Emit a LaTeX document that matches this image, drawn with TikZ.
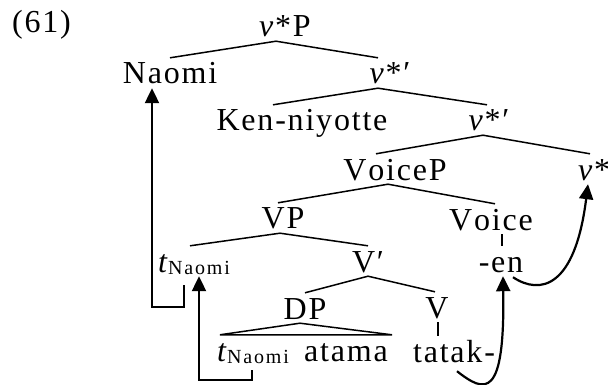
\documentclass[tikz,border=0pt]{standalone}
\usepackage{fontspec}
\setmainfont{Liberation Serif}
\usetikzlibrary{arrows.meta}

% spaced-out letters, as in the source
\ExplSyntaxOn
\NewDocumentCommand{\ls}{m}{\tl_map_inline:nn {#1} {##1\kern 1.8pt}\unkern}
\ExplSyntaxOff
\newcommand{\vst}{\textit{v}\kern1.8pt*}
% trace with a lowered subscript
\newcommand{\trace}{\textit{t}\kern.5pt\raisebox{-2pt}{\fontsize{20}{20}\selectfont\ls{Naomi}}}

\tikzset{
  cat/.style={anchor=base, inner sep=4pt, text height=22pt, text depth=0pt},
  branch/.style={line width=1.5pt},
  mvarrow/.style={line width=2.2pt, -{Triangle[length=15pt,width=14pt]}},
}

\begin{document}
\begin{tikzpicture}[x=1pt, y=-1pt, font=\fontsize{32}{38}\selectfont]
    \useasboundingbox (0,0) rectangle (608,385);

    \node[anchor=base west, inner sep=0pt] (ex) at (12,33) {\ls{(61)}};

    % tree
    \node[cat] (vsP)    at (285,37)  {\vst\kern1.8pt P};
    \node[cat] (naomi)  at (170,84)  {\ls{Naomi}};
    \node[cat] (vsbarA) at (390,84)  {\vst\kern1.8pt′};
    \node[cat] (ken)    at (302,131) {\ls{Ken-niyotte}};
    \node[cat] (vsbarB) at (489,131) {\vst\kern1.8pt′};
    \node[cat] (voiceP) at (395,180) {\ls{VoiceP}};
    \node[cat] (vstar)  at (594,180) {\vst};
    \node[cat] (vp)     at (283,229) {\ls{VP}};
    \node[cat] (voice)  at (491,230) {\ls{Voice}};
    \node[cat] (tn)     at (194,272) {\trace};
    \node[cat] (vbar)   at (368,272) {\ls{V′}};
    \node[cat] (en)     at (501,272) {\ls{-en}};
    \node[cat] (dp)     at (305,319) {\ls{DP}};
    \node[cat] (v)      at (437,318) {V};
    \node[cat] (tnlow)  at (253,361) {\trace};
    \node[cat] (atama)  at (346,361) {\ls{atama}};
    \node[cat] (tatak)  at (454,362) {\ls{tatak-}};

    \draw[branch] (naomi.north) -- ([xshift=-9pt]vsP.south) -- ([xshift=-12pt]vsbarA.north);
    \draw[branch] ([xshift=-29pt]ken.north) -- ([xshift=-12pt]vsbarA.south) -- ([xshift=-2pt]vsbarB.north);
    \draw[branch] ([xshift=-19pt]voiceP.north) -- ([xshift=-6pt]vsbarB.south) -- ([xshift=-4pt]vstar.north);
    \draw[branch] ([xshift=-5pt]vp.north) -- ([xshift=-7pt]voiceP.south) -- ([xshift=4pt]voice.north);
    \draw[branch] ([xshift=-4pt]tn.north) -- ([xshift=-3pt]vp.south) -- (vbar.north);
    \draw[branch] ([xshift=1pt]en.north) -- ([xshift=1pt]en.north |- voice.south);
    \draw[branch] (dp.north) -- (vbar.south) -- ([xshift=-2pt]v.north);
    \draw[branch] ([xshift=1pt]v.south) -- ([xshift=1pt]v.south |- tatak.north);
    \draw[branch] ([xshift=7pt]tnlow.north west) -- ([xshift=-5pt]dp.south) -- (atama.north east) -- cycle;

    % movement
    \draw[mvarrow] ([shift={(-10,9)}]tn.south) -- ++(0,22) -| ([xshift=-18pt]naomi.south);
    \draw[mvarrow] ([shift={(-1,5)}]tnlow.south) -- ++(0,10) -| ([xshift=5pt]tn.south);
    \draw[mvarrow] ([shift={(3,5)}]tatak.south) .. controls +(28,22) and +(2,124) .. ([xshift=2pt]en.south);
    \draw[mvarrow] ([shift={(12,1)}]en.south) .. controls +(27,18) and +(-13,104) .. ([xshift=-6pt]vstar.south);
\end{tikzpicture}
\end{document}
